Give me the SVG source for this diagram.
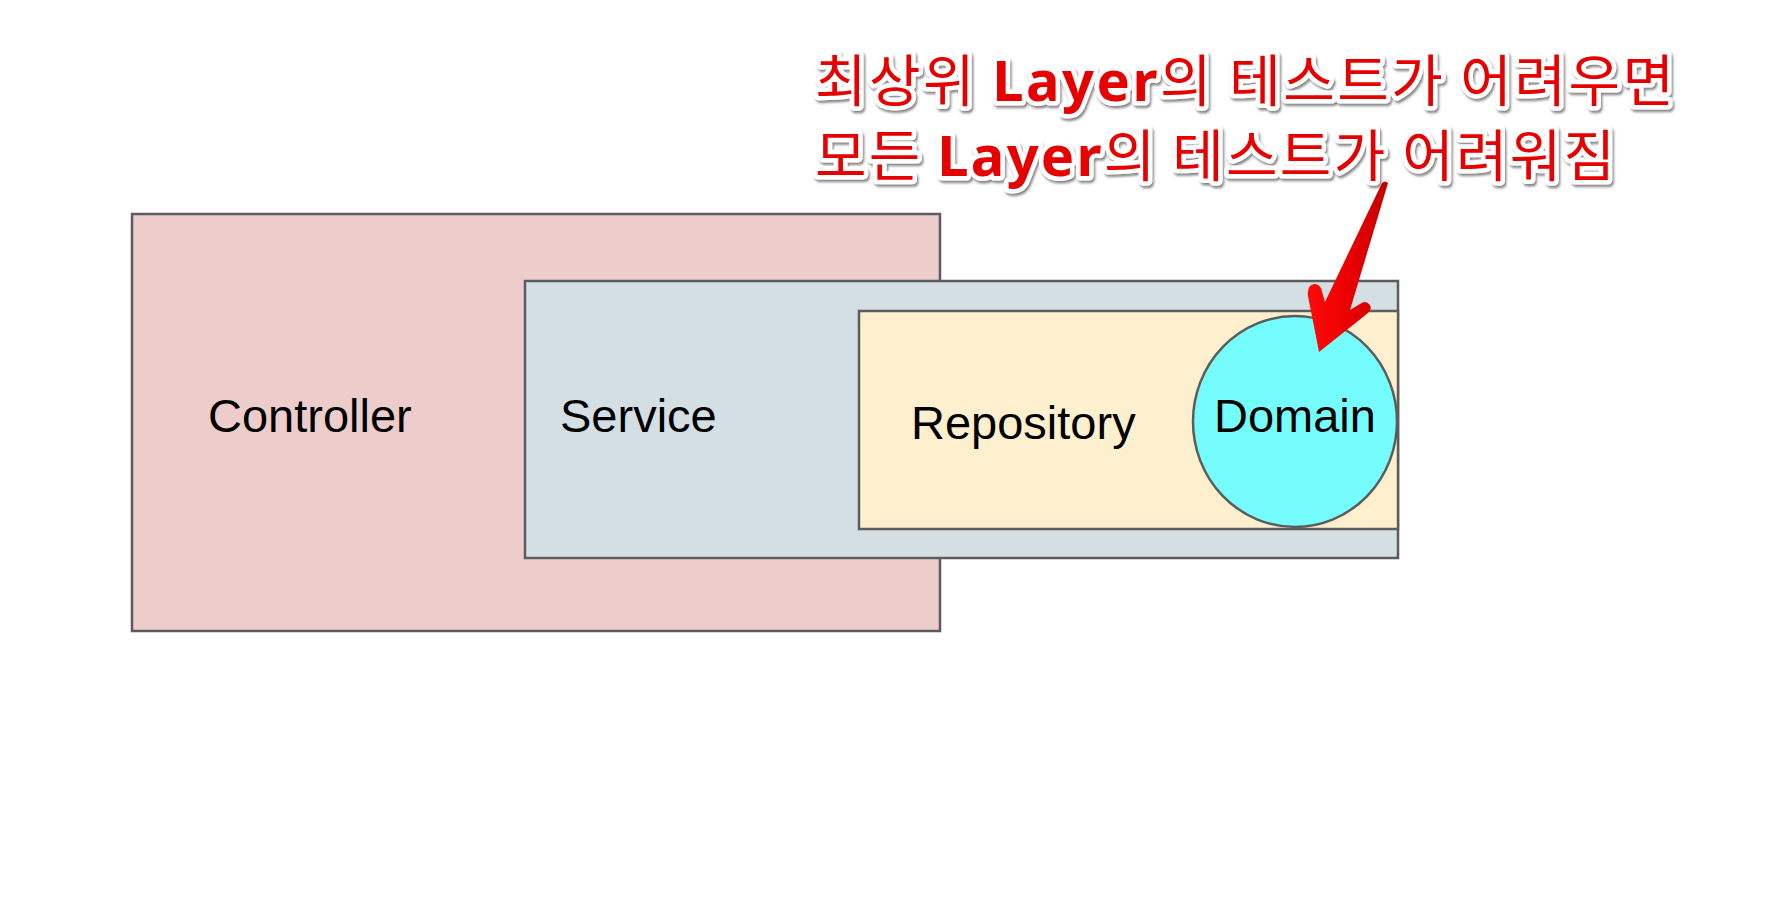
<svg xmlns="http://www.w3.org/2000/svg" width="1774" height="914" viewBox="0 0 1774 914">
  <style>
    .box { stroke: #5c5c5c; stroke-width: 2.5; }
    .lbl { font-family: "Liberation Sans", Arial, sans-serif; font-size: 47px; fill: #000; }
    .note { font-family: "Noto Sans CJK KR", "Noto Sans", sans-serif; font-size: 56px; fill: #e60000; stroke: #ffffff; stroke-width: 9px; stroke-linejoin: round; paint-order: stroke fill; }
    .b { font-family: "Noto Sans", "Noto Sans CJK KR", sans-serif; font-weight: bold; }
  </style>
  <defs>
    <filter id="shadow" x="-5%" y="-20%" width="110%" height="140%">
      <feDropShadow dx="1.5" dy="2.5" stdDeviation="1.2" flood-color="#555555" flood-opacity="0.7"/>
    </filter>
    <linearGradient id="redgrad" x1="0" y1="0" x2="1" y2="0">
      <stop offset="0" stop-color="#ff0a0a"/>
      <stop offset="0.55" stop-color="#e80000"/>
      <stop offset="1" stop-color="#c20000"/>
    </linearGradient>
  </defs>
  <rect width="1774" height="914" fill="#ffffff"/>

  <g id="controller">
    <rect class="box" x="132" y="214" width="808" height="417" fill="#edcdcc"/>
    <text class="lbl" x="208" y="432">Controller</text>
  </g>
  <g id="service">
    <rect class="box" x="525" y="281" width="873" height="277" fill="#d4dfe4"/>
    <text class="lbl" x="560" y="432">Service</text>
  </g>
  <g id="repository">
    <rect class="box" x="859" y="311" width="539" height="218" fill="#fef0cf"/>
    <text class="lbl" x="911" y="439">Repository</text>
  </g>
  <g id="domain">
    <ellipse class="box" cx="1295" cy="421.5" rx="102" ry="105.5" fill="#75fcfd"/>
    <text class="lbl" x="1214" y="432">Domain</text>
  </g>

  <g id="note" filter="url(#shadow)">
    <text class="note" x="815" y="101" textLength="859" lengthAdjust="spacing">최상위 <tspan class="b">Layer</tspan>의 테스트가 어려우면</text>
    <text class="note" x="815" y="176" textLength="800" lengthAdjust="spacing">모든 <tspan class="b">Layer</tspan>의 테스트가 어려워짐</text>
  </g>

  <g id="connectors">
    <path d="M 1382,183 L 1325,302 L 1321,288 Q 1316,281 1310,286 Q 1307,290 1308,296 L 1319,352 L 1368,313 Q 1373,308 1369,304 Q 1365,300 1360,304 L 1350,310 L 1388,183 Q 1385,180 1382,183 Z" fill="url(#redgrad)"/>
  </g>
</svg>
